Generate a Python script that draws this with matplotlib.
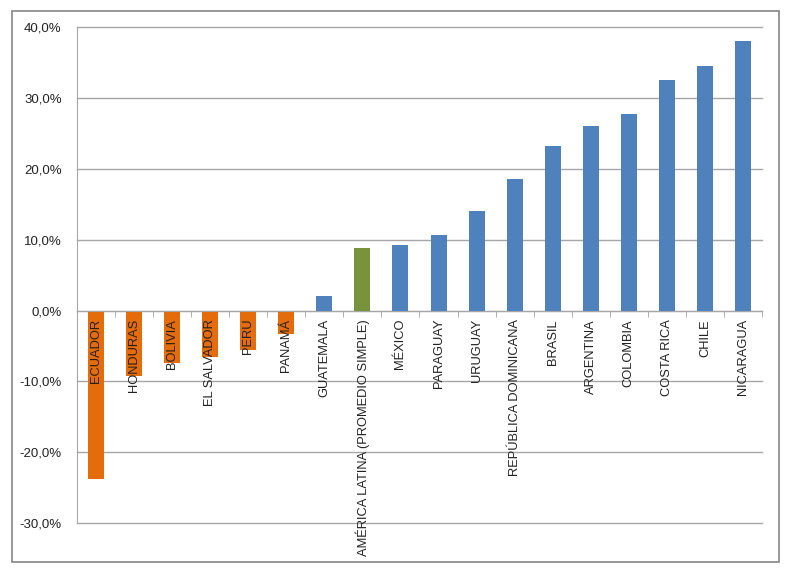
import numpy as np
import matplotlib
matplotlib.use("Agg")
import matplotlib.pyplot as plt
from matplotlib.ticker import FuncFormatter, FixedLocator
from matplotlib.patches import Rectangle

# data (% change)
countries = ["ECUADOR", "HONDURAS", "BOLIVIA", "EL SALVADOR", "PERU", "PANAMÁ",
             "GUATEMALA", "AMÉRICA LATINA (PROMEDIO SIMPLE)", "MÉXICO", "PARAGUAY",
             "URUGUAY", "REPÚBLICA DOMINICANA", "BRASIL", "ARGENTINA", "COLOMBIA",
             "COSTA RICA", "CHILE", "NICARAGUA"]
values = [-23.8, -9.3, -7.4, -6.5, -5.6, -3.3,
          2.0, 8.8, 9.3, 10.6,
          14.1, 18.6, 23.2, 26.0, 27.7,
          32.6, 34.6, 38.1]
y_ticks = [-30, -20, -10, 0, 10, 20, 30, 40]

orange = "#E46C0A"
blue = "#4F81BD"
green = "#77933C"
colors = []
for c, v in zip(countries, values):
    if c.startswith("AMÉRICA LATINA"):
        colors.append(green)
    elif v < 0:
        colors.append(orange)
    else:
        colors.append(blue)

plt.rcParams['font.family'] = ['Liberation Sans', 'DejaVu Sans']

fig = plt.figure(figsize=(7.87, 5.72), dpi=100)
ax = fig.add_axes([77/787, 1 - 523/572, (762 - 77)/787, (523 - 27.3)/572])

x = np.arange(len(countries))
ax.bar(x, values, width=0.42, color=colors, zorder=3)

ax.set_xlim(-0.5, len(countries) - 0.5)
ax.set_ylim(-30, 40)
ax.set_yticks(y_ticks)
ax.yaxis.set_major_formatter(FuncFormatter(lambda v, p: f"{v:.1f}%".replace(".", ",")))
ax.tick_params(axis='y', length=0, pad=11, labelsize=9.5, colors="#222222")
ax.grid(axis='y', color="#A6A6A6", linewidth=1, zorder=0)
for gl in ax.get_ygridlines():
    gl.set_clip_on(False)

# category axis sits on the zero line, labels drawn over the bars
ax.spines['bottom'].set_position(('data', 0))
ax.spines['bottom'].set_color("#A6A6A6")
ax.spines['bottom'].set_zorder(4)
ax.spines['left'].set_color("#A6A6A6")
ax.spines['top'].set_visible(False)
ax.spines['right'].set_visible(False)
ax.set_xticks(x)
ax.set_xticklabels(countries, rotation=90, fontsize=9.3, color="#222222")
ax.tick_params(axis='x', which='major', length=0, pad=6)
ax.xaxis.set_minor_locator(FixedLocator(np.arange(-0.5, len(countries), 1.0)))
ax.tick_params(axis='x', which='minor', length=4, color="#A6A6A6", direction='out')
ax.xaxis.set_zorder(5)

# outer chart border
fig.patches.append(Rectangle((12/787, 1 - 562/572), (779 - 12)/787, (562 - 11)/572,
                             transform=fig.transFigure, fill=False,
                             edgecolor="#868686", linewidth=1.2))

fig.savefig("out.png", dpi=100)
